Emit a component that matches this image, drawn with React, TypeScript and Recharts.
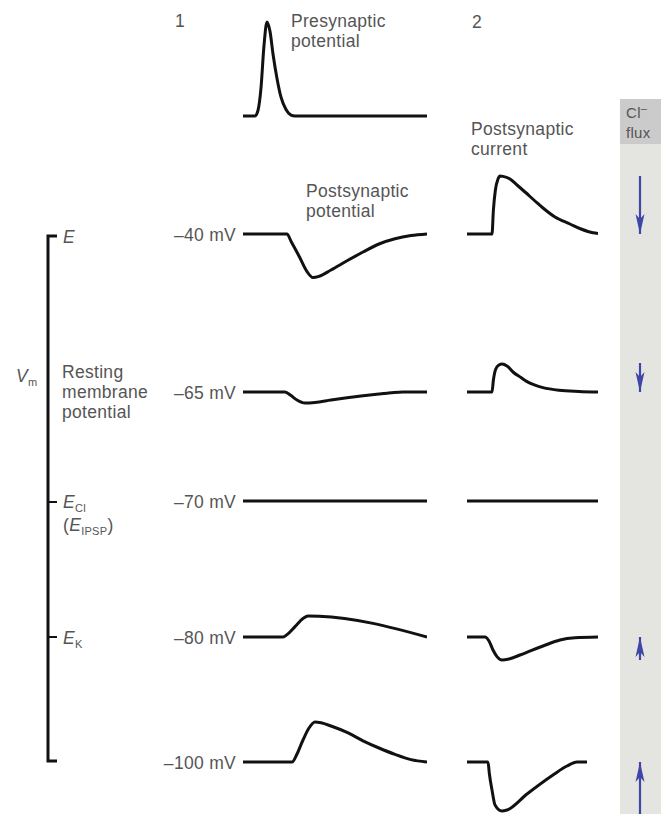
import React from 'react';
import { LineChart, Line, XAxis, YAxis } from 'recharts';

// ---------- data (time in ms, potentials in mV, currents in pA) ----------
const presynaptic = [
  { t: 0, v: 0 }, { t: 3, v: 0 }, { t: 3.75, v: 6 }, { t: 4.5, v: 30 }, { t: 5.25, v: 75 },
  { t: 6, v: 100 }, { t: 6.75, v: 90 }, { t: 7.5, v: 66 }, { t: 8.5, v: 40 }, { t: 9.5, v: 20 },
  { t: 10.75, v: 7 }, { t: 12, v: 1 }, { t: 13, v: 0 }, { t: 46, v: 0 },
];

const psp40 = [
  { t: 0, v: 0 }, { t: 11, v: 0 }, { t: 12, v: -1.8 }, { t: 14, v: -5.5 }, { t: 16, v: -9.4 },
  { t: 17.5, v: -10.9 }, { t: 19, v: -10.6 }, { t: 22, v: -9 }, { t: 26, v: -6.7 }, { t: 30, v: -4.5 },
  { t: 34, v: -2.5 }, { t: 38, v: -1.2 }, { t: 42, v: -0.4 }, { t: 46, v: 0 },
];
const psp65 = [
  { t: 0, v: 0 }, { t: 10.5, v: 0 }, { t: 12, v: -0.9 }, { t: 13.5, v: -2 }, { t: 15.5, v: -2.75 },
  { t: 18, v: -2.6 }, { t: 22, v: -2.0 }, { t: 26, v: -1.45 }, { t: 30, v: -0.95 }, { t: 34, v: -0.5 },
  { t: 37, v: -0.2 }, { t: 40, v: 0 }, { t: 46, v: 0 },
];
const psp70 = [{ t: 0, v: 0 }, { t: 46, v: 0 }];
const psp80 = [
  { t: 0, v: 0 }, { t: 10, v: 0 }, { t: 11, v: 0.6 }, { t: 13, v: 2.6 }, { t: 15, v: 4.6 },
  { t: 16.25, v: 5.25 }, { t: 19, v: 5.2 }, { t: 46, v: 0 },
];
const psp100 = [
  { t: 0, v: 0 }, { t: 12.25, v: 0 }, { t: 13.5, v: 2 }, { t: 15, v: 5.5 }, { t: 16.5, v: 8.5 },
  { t: 18, v: 10 }, { t: 19.5, v: 9.8 }, { t: 22, v: 9 }, { t: 26, v: 7.4 }, { t: 30, v: 5.3 },
  { t: 34, v: 3.5 }, { t: 38, v: 1.9 }, { t: 42, v: 0.6 }, { t: 46, v: 0 },
];

const psc40 = [
  { t: 0, v: 0 }, { t: 6.25, v: 0 }, { t: 6.6, v: 12 }, { t: 7.1, v: 22 }, { t: 7.75, v: 27.5 },
  { t: 8.25, v: 29 }, { t: 9, v: 28.8 }, { t: 10.75, v: 27.5 }, { t: 12.5, v: 24.5 }, { t: 14.5, v: 21 },
  { t: 17, v: 16.5 }, { t: 19, v: 13 }, { t: 22, v: 8.5 }, { t: 25.75, v: 5 }, { t: 28.5, v: 2.5 },
  { t: 31.5, v: 0.6 }, { t: 32.75, v: 0.3 },
];
const psc65 = [
  { t: 0, v: 0 }, { t: 6.25, v: 0 }, { t: 6.6, v: 6 }, { t: 7.2, v: 11.5 }, { t: 8, v: 13.5 },
  { t: 8.75, v: 14 }, { t: 10, v: 13 }, { t: 11.5, v: 10 }, { t: 13.5, v: 7.2 }, { t: 15, v: 5.2 },
  { t: 17, v: 3.4 }, { t: 19, v: 2.2 }, { t: 23, v: 0.9 }, { t: 28, v: 0.3 }, { t: 32.75, v: 0 },
];
const psc70 = [{ t: 0, v: 0 }, { t: 32.75, v: 0 }];
const psc80 = [
  { t: 0, v: 0 }, { t: 4.5, v: 0 }, { t: 5.5, v: -2 }, { t: 6.5, v: -6.5 }, { t: 7.5, v: -9.8 },
  { t: 8.75, v: -11.5 }, { t: 10.5, v: -11 }, { t: 13.25, v: -9 }, { t: 16, v: -6.8 }, { t: 19, v: -4.5 },
  { t: 23.25, v: -1.5 }, { t: 27, v: -0.4 }, { t: 32.75, v: 0 },
];
const psc100 = [
  { t: 0, v: 0 }, { t: 5.25, v: 0 }, { t: 5.6, v: -6 }, { t: 6.25, v: -14 }, { t: 7, v: -21.5 },
  { t: 8.75, v: -24.5 }, { t: 10, v: -24 }, { t: 15, v: -16 }, { t: 21.5, v: -6.5 }, { t: 25, v: -2 },
  { t: 27.5, v: 0 }, { t: 30, v: 0 },
];

// Cl- flux arrows (signed magnitude, same units as current)
const clFlux = [29, 14.5, null, -11.5, -27];

const potentialLabels = ['\u201340 mV', '\u201365 mV', '\u201370 mV', '\u201380 mV', '\u2013100 mV'];
const pspRows = [psp40, psp65, psp70, psp80, psp100];
const pscRows = [psc40, psc65, psc70, psc80, psc100];

// ---------- layout ----------
const FONT = '"Liberation Sans", Arial, sans-serif';
const TEXT = '#555';
const rowBaselines = [234, 392, 501, 637, 762];
const col1 = { left: 243, width: 184, tMax: 46 };
const col2 = { left: 467, width: 194, tMax: 48.5, arrowT: 43.25 };

function ArrowHead(props: any) {
  const { cx, cy, index, dir } = props;
  if (index !== 1 || cx == null || cy == null) return <g key={`a${index}`} />;
  const s = dir; // +1 => head points down, -1 => points up
  const pts = `${cx},${cy} ${cx - 4.5},${cy - s * 20} ${cx},${cy - s * 15} ${cx + 4.5},${cy - s * 20}`;
  return <polygon key={`a${index}`} points={pts} fill="#3d47a8" />;
}

function Trace(props: any) {
  const { data, left, baseline, width, tMax, k, up, down, flux, arrowT } = props;
  return (
    <div style={{ position: 'absolute', left, top: baseline - up, width, height: up + down }}>
      <LineChart width={width} height={up + down} margin={{ top: 0, right: 0, bottom: 0, left: 0 }}>
        <XAxis type="number" dataKey="t" domain={[0, tMax]} hide allowDataOverflow />
        <YAxis type="number" dataKey="v" domain={[-down / k, up / k]} hide allowDataOverflow />
        <Line
          data={data}
          dataKey="v"
          type="monotone"
          stroke="#111"
          strokeWidth={3}
          dot={false}
          isAnimationActive={false}
        />
        {flux != null && (
          <Line
            data={[{ t: arrowT, v: flux }, { t: arrowT, v: 0 }]}
            dataKey="v"
            type="linear"
            stroke="#3d47a8"
            strokeWidth={2.2}
            dot={(p: any) => <ArrowHead {...p} key={`ah${p.index}`} dir={flux > 0 ? 1 : -1} />}
            isAnimationActive={false}
          />
        )}
      </LineChart>
    </div>
  );
}

function MultiLine({ x, y, lines, gap, ...rest }: any) {
  return (
    <>
      {lines.map((l: string, i: number) => (
        <text key={l} x={x} y={y + i * gap} {...rest}>{l}</text>
      ))}
    </>
  );
}

export default function App() {
  return (
    <div style={{ position: 'absolute', left: 0, top: 0, width: 668, height: 814, background: '#fff', overflow: 'hidden' }}>
      {/* Cl- flux column */}
      <div style={{ position: 'absolute', left: 620, top: 99, width: 41, height: 45, background: '#cbcbcb' }} />
      <div style={{ position: 'absolute', left: 620, top: 144, width: 41, height: 670, background: '#e4e5e0' }} />

      {/* presynaptic potential */}
      <Trace data={presynaptic} left={col1.left} baseline={116} width={col1.width} tMax={col1.tMax} k={0.94} up={102} down={10} />

      {pspRows.map((d, i) => (
        <Trace key={`psp${i}`} data={d} left={col1.left} baseline={rowBaselines[i]} width={col1.width}
          tMax={col1.tMax} k={4} up={50} down={50} />
      ))}
      {pscRows.map((d, i) => (
        <Trace key={`psc${i}`} data={d} left={col2.left} baseline={rowBaselines[i]} width={col2.width}
          tMax={col2.tMax} k={2} up={66} down={52} flux={clFlux[i]} arrowT={col2.arrowT} />
      ))}

      {/* annotations */}
      <svg width={668} height={814} style={{ position: 'absolute', left: 0, top: 0, pointerEvents: 'none' }}
        fontFamily={FONT} fontSize={17.5} fill={TEXT} letterSpacing={0.3}>
        <text x={175} y={27}>1</text>
        <text x={472} y={28}>2</text>
        <MultiLine x={291} y={27} gap={20} lines={['Presynaptic', 'potential']} />
        <MultiLine x={306} y={197} gap={20} lines={['Postsynaptic', 'potential']} />
        <MultiLine x={471} y={135} gap={20} lines={['Postsynaptic', 'current']} />
        <text x={626} y={118} fontSize={15}>Cl<tspan dy={-6} fontSize={11}>{'\u2013'}</tspan></text>
        <text x={626} y={138} fontSize={15}>flux</text>

        {potentialLabels.map((l, i) => (
          <text key={l} x={236} y={rowBaselines[i] + 7} textAnchor="end">{l}</text>
        ))}

        {/* Vm bracket */}
        <path d="M57,236 H48 V761 H57" stroke="#111" strokeWidth={3} fill="none" />
        <line x1={48} x2={57} y1={502} y2={502} stroke="#111" strokeWidth={2} />
        <line x1={48} x2={57} y1={637} y2={637} stroke="#111" strokeWidth={2} />

        <text x={16} y={382}><tspan fontStyle="italic">V</tspan><tspan fontSize={11} dy={4}>m</tspan></text>
        <text x={63} y={243} fontStyle="italic">E</text>
        <MultiLine x={62} y={378} gap={20} lines={['Resting', 'membrane', 'potential']} />
        <text x={63} y={508}><tspan fontStyle="italic">E</tspan><tspan fontSize={11} dy={4}>Cl</tspan></text>
        <text x={63} y={531}>(<tspan fontStyle="italic">E</tspan><tspan fontSize={11} dy={4}>IPSP</tspan><tspan dy={-4}>)</tspan></text>
        <text x={63} y={644}><tspan fontStyle="italic">E</tspan><tspan fontSize={11} dy={4}>K</tspan></text>
      </svg>
    </div>
  );
}
